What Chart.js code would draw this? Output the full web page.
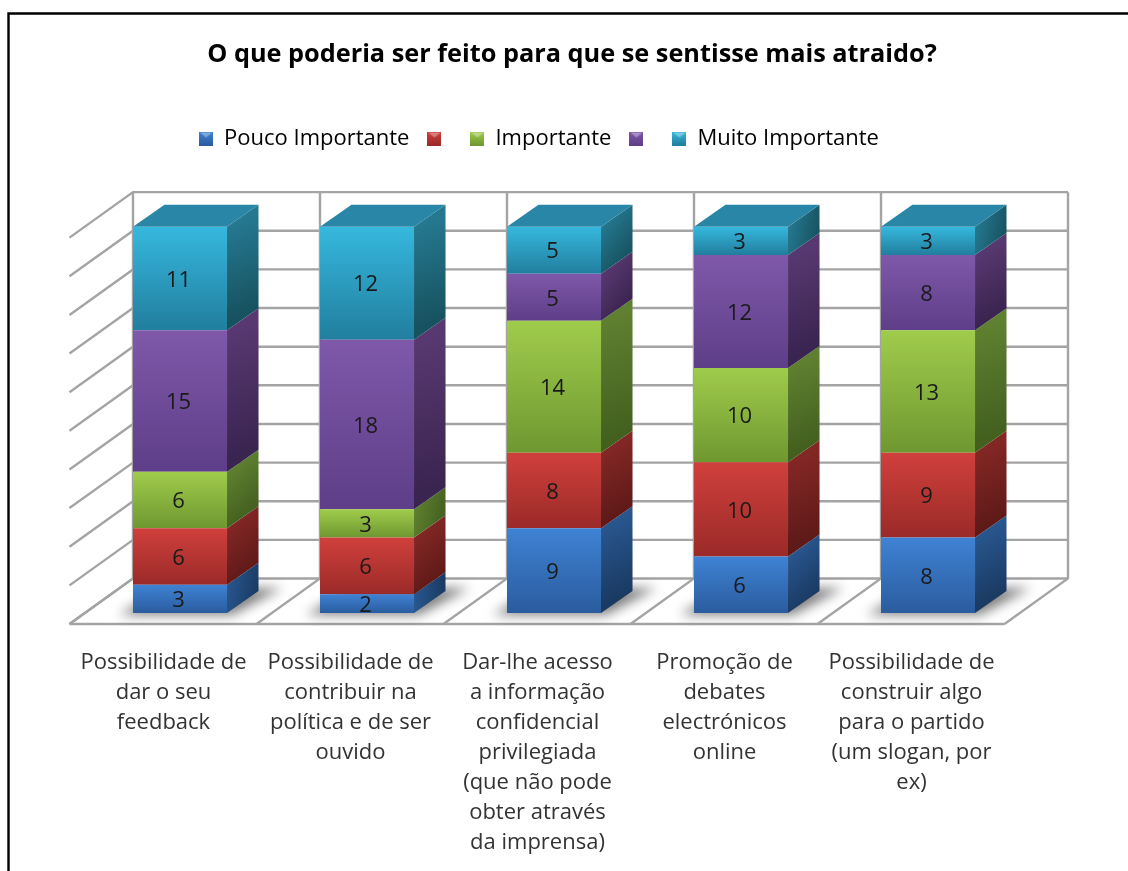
<!DOCTYPE html>
<html>
<head>
<meta charset="utf-8">
<style>html,body{margin:0;padding:0;background:#fff}#w{width:1128px;height:871px;position:relative;overflow:hidden}</style>
<script src="https://cdn.jsdelivr.net/npm/chart.js@4"></script>
</head>
<body>
<div id="w"><canvas id="c" width="1128" height="871"></canvas></div>
<script>
const categories = [
  ['Possibilidade de','dar o seu','feedback'],
  ['Possibilidade de','contribuir na','política e de ser','ouvido'],
  ['Dar-lhe acesso','a informação','confidencial','privilegiada','(que não pode','obter através','da imprensa)'],
  ['Promoção de','debates','electrónicos','online'],
  ['Possibilidade de','construir algo','para o partido','(um slogan, por','ex)']
];
const chartTitle = 'O que poderia ser feito para que se sentisse mais atraido?';
const seriesNames = ['Pouco Importante','','Importante','','Muito Importante'];
const pouco = [3,2,9,6,8];
const vermelho = [6,6,8,10,9];
const importante = [6,3,14,10,13];
const roxo = [15,18,5,12,8];
const muito = [11,12,5,3,3];
const seriesValues = [pouco,vermelho,importante,roxo,muito];
const axisMax = 41, axisStep = 4.1;

const frontTop = ['#3F82D4','#D0403C','#A0CC4C','#7F58AA','#36B8DE'];
const frontBot = ['#2A5C9E','#9A2A28','#6E9830','#5E3E88','#217E9E'];
const sideTop  = ['#28568E','#832725','#5F8030','#583870','#257890'];
const sideBot  = ['#1A3A62','#5E1A18','#43601F','#3A2450','#17525F'];
const capCol = '#2A86A6';
const FONT = '"Open Sans"';
const TXT = '#333333';

const BACK = {dx:46.5, dy:-34.5}, FRONT = {dx:-17, dy:11}, DEPTH = {dx:31.5, dy:-22};

function frontGradient(ctx){
  const c = ctx.chart, ys = c.scales.y, s = ctx.datasetIndex, i = ctx.dataIndex;
  if(!ys || !c.chartArea || i === undefined) return frontTop[s];
  let base = 0; for(let k=0;k<s;k++) base += seriesValues[k][i];
  const y0 = ys.getPixelForValue(base+seriesValues[s][i]), y1 = ys.getPixelForValue(base);
  if(!isFinite(y0) || !isFinite(y1)) return frontTop[s];
  const g = c.ctx.createLinearGradient(0,y0,0,y1);
  g.addColorStop(0,frontTop[s]); g.addColorStop(1,frontBot[s]);
  return g;
}
function legendIcon(s){
  const n = document.createElement('canvas'); n.width=14; n.height=14;
  const x = n.getContext('2d');
  const g = x.createLinearGradient(0,0,0,14); g.addColorStop(0,frontTop[s]); g.addColorStop(1,frontBot[s]);
  x.fillStyle=g; x.fillRect(0,0,14,14);
  x.fillStyle='rgba(255,255,255,0.35)';
  x.beginPath(); x.moveTo(1,1); x.lineTo(13,1); x.lineTo(7,6); x.closePath(); x.fill();
  return n;
}
const scene = {
  id:'scene',
  beforeLayout(chart){
    const l = chart.legend;
    if(l && !l._wrapped){
      const f = l.fit;
      l.fit = function(){ f.call(l); l.height = 118.6; };
      l._wrapped = true;
    }
  },
  afterLayout(chart){
    chart.titleBlock.left += 18; chart.titleBlock.right += 18;
    chart.legend.left -= 15; chart.legend.right -= 15;
    chart.legend.top += 1.5; chart.legend.bottom += 1.5;
  },
  beforeDraw(chart){
    const c = chart.ctx;
    c.save();
    c.strokeStyle='#000'; c.lineWidth=2.4;
    c.beginPath(); c.moveTo(8.5,871); c.lineTo(8.5,13.5); c.lineTo(1128,13.5); c.stroke();
    c.restore();
  },
  beforeDatasetsDraw(chart){
    const c = chart.ctx, ys = chart.scales.y, a = chart.chartArea;
    const cw = (a.right-a.left)/categories.length;
    const y0 = ys.getPixelForValue(0), yT = ys.getPixelForValue(axisMax);
    c.save();
    c.strokeStyle='#A4A4A4'; c.lineWidth=2.4; c.lineJoin='miter';
    ys.ticks.forEach(t=>{
      const p = ys.getPixelForValue(t.value);
      c.beginPath();
      c.moveTo(a.right+BACK.dx,p+BACK.dy);
      c.lineTo(a.left+BACK.dx,p+BACK.dy);
      c.lineTo(a.left+FRONT.dx,p+FRONT.dy);
      c.stroke();
    });
    for(let k=0;k<=categories.length;k++){
      const x = a.left+k*cw;
      c.beginPath();
      c.moveTo(x+BACK.dx,yT+BACK.dy);
      c.lineTo(x+BACK.dx,y0+BACK.dy);
      c.lineTo(x+FRONT.dx,y0+FRONT.dy);
      c.stroke();
    }
    c.beginPath();
    c.moveTo(a.left+FRONT.dx,y0+FRONT.dy);
    c.lineTo(a.right+FRONT.dx,y0+FRONT.dy);
    c.stroke();
    const m = chart.getDatasetMeta(0);
    m.data.forEach(b=>{
      const L=b.x-b.width/2, R=b.x+b.width/2;
      c.save();
      c.filter='blur(6px)';
      c.fillStyle='rgba(0,0,0,0.5)';
      c.beginPath();
      c.moveTo(L-14,y0+2); c.lineTo(R+5,y0+2); c.lineTo(R+DEPTH.dx+24,y0+DEPTH.dy-3); c.lineTo(L+30,y0+DEPTH.dy-3);
      c.closePath(); c.fill();
      c.restore();
    });
    c.restore();
  },
  afterDatasetsDraw(chart){
    const c = chart.ctx;
    c.save();
    chart.data.datasets.forEach((d,s)=>{
      chart.getDatasetMeta(s).data.forEach((b,i)=>{
        const R=b.x+b.width/2, L=b.x-b.width/2, t=b.y, u=b.base;
        const g=c.createLinearGradient(R,t,R+DEPTH.dx,u+DEPTH.dy);
        g.addColorStop(0,sideTop[s]); g.addColorStop(1,sideBot[s]);
        c.fillStyle=g;
        c.beginPath();
        c.moveTo(R,t); c.lineTo(R+DEPTH.dx,t+DEPTH.dy); c.lineTo(R+DEPTH.dx,u+DEPTH.dy); c.lineTo(R,u);
        c.closePath(); c.fill();
        if(s===seriesValues.length-1){
          c.fillStyle=capCol;
          c.beginPath();
          c.moveTo(L,t); c.lineTo(L+DEPTH.dx,t+DEPTH.dy); c.lineTo(R+DEPTH.dx,t+DEPTH.dy); c.lineTo(R,t);
          c.closePath(); c.fill();
        }
      });
    });
    c.fillStyle='#1A1A1A';
    c.font='22px '+FONT; c.textAlign='center'; c.textBaseline='middle';
    chart.data.datasets.forEach((d,s)=>{
      chart.getDatasetMeta(s).data.forEach((b,i)=>{
        c.fillText(String(d.data[i]), b.x-1.5, (b.y+b.base)/2+2);
      });
    });
    c.restore();
  }
};
new Chart(document.getElementById('c'),{
  type:'bar',
  data:{
    labels:categories,
    datasets:seriesValues.map((v,s)=>({
      label:seriesNames[s], data:v, backgroundColor:frontGradient, borderWidth:0,
      barPercentage:0.503, categoryPercentage:1
    }))
  },
  options:{
    responsive:false, animation:false,
    layout:{padding:{left:86.5,right:106.5,top:0,bottom:0}},
    plugins:{
      tooltip:{enabled:false},
      title:{display:true,text:chartTitle,color:'#000',align:'center',fullSize:true,
        font:{family:FONT,size:25.3,weight:'bold',lineHeight:1.25},padding:{top:39,bottom:37.4}},
      legend:{display:true,position:'top',fullSize:true,
        labels:{usePointStyle:true,boxWidth:14,boxHeight:14,padding:18,color:TXT,
          font:{family:FONT,size:22},
          generateLabels:()=>seriesNames.map((n,s)=>({text:n,fillStyle:frontTop[s],strokeStyle:frontTop[s],lineWidth:0,pointStyle:legendIcon(s),datasetIndex:s,hidden:false}))
        }}
    },
    scales:{
      x:{stacked:true,offset:true,grid:{display:false},border:{display:false},
        afterFit:s=>{s.height=258;},
        ticks:{color:TXT,font:{family:FONT,size:22,lineHeight:1.364},padding:27,labelOffset:-16.5,maxRotation:0,minRotation:0,autoSkip:false}},
      y:{stacked:true,display:false,min:0,max:axisMax,ticks:{stepSize:axisStep},grid:{display:false}}
    }
  },
  plugins:[scene]
});
</script>
</body>
</html>
